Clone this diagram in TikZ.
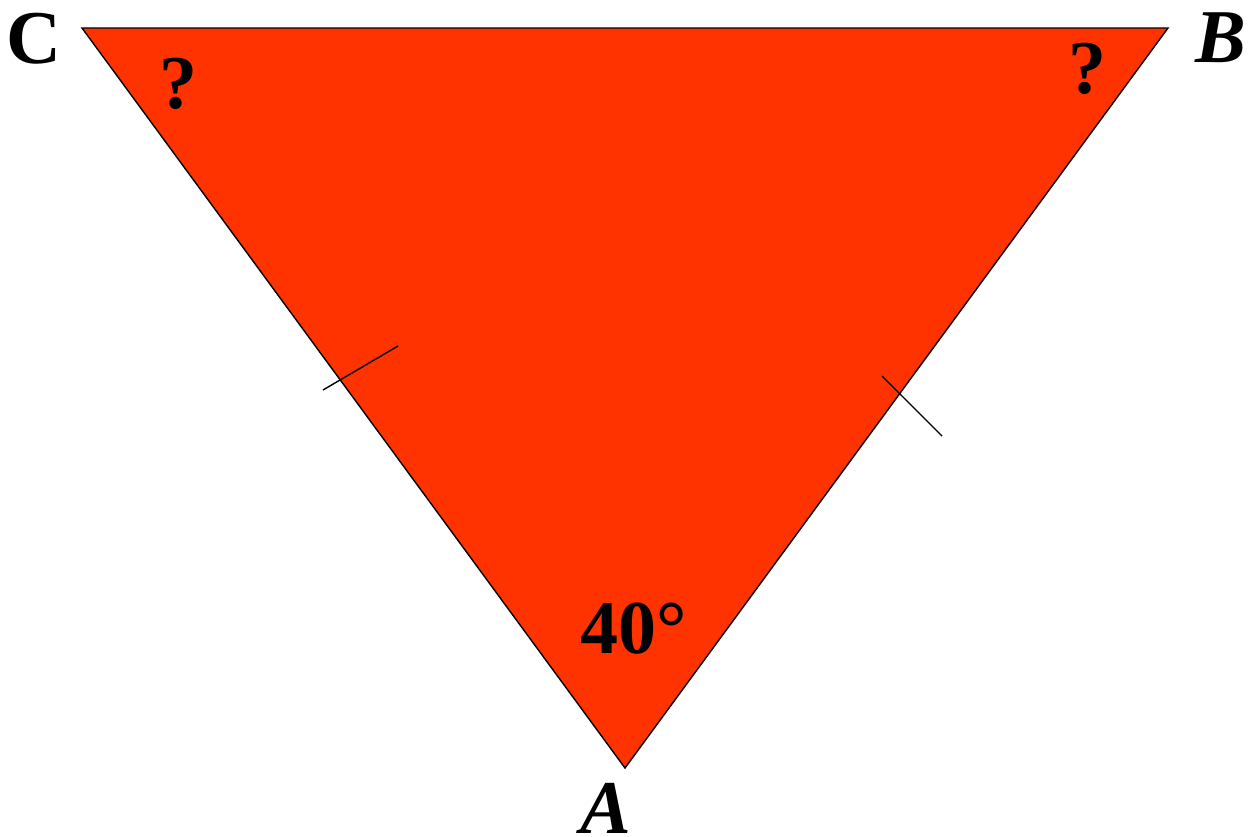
\documentclass[tikz,border=0pt]{standalone}
\usepackage{fontspec}
\setmainfont{Liberation Serif}
\definecolor{trired}{RGB}{255,51,0}
\tikzset{
  lbl/.style={inner sep=0pt, anchor=base, font=\fontsize{76}{80}\selectfont\bfseries},
  edge/.style={draw=black, line width=1.4pt},
  tick/.style={draw=black, line width=1.4pt}
}
\begin{document}
\begin{tikzpicture}[x=1pt,y=-1pt]
\useasboundingbox (0,0) rectangle (1249,836);
\coordinate (C) at (82,28);
\coordinate (B) at (1168,28);
\coordinate (A) at (625,768);
\fill[trired] (C) -- (B) -- (A) -- cycle;
\draw[edge, line join=miter] (C) -- (B) -- (A) -- cycle;
\coordinate (t1a) at (323,390);
\coordinate (t1b) at (398,346);
\coordinate (t2a) at (882,376);
\coordinate (t2b) at (942,436);
\draw[tick] (t1a) -- (t1b);
\draw[tick] (t2a) -- (t2b);
\node[lbl] (lC) at (34,63) {C};
\node[lbl] (lB) at (1221,62) {\itshape B};
\node[lbl] (lA) at (606,833) {\itshape A};
\node[lbl] (q1) at (178,108) {?};
\node[lbl] (q2) at (1087,93) {?};
\node[lbl] (ang) at (634,653) {40°};
\end{tikzpicture}
\end{document}
